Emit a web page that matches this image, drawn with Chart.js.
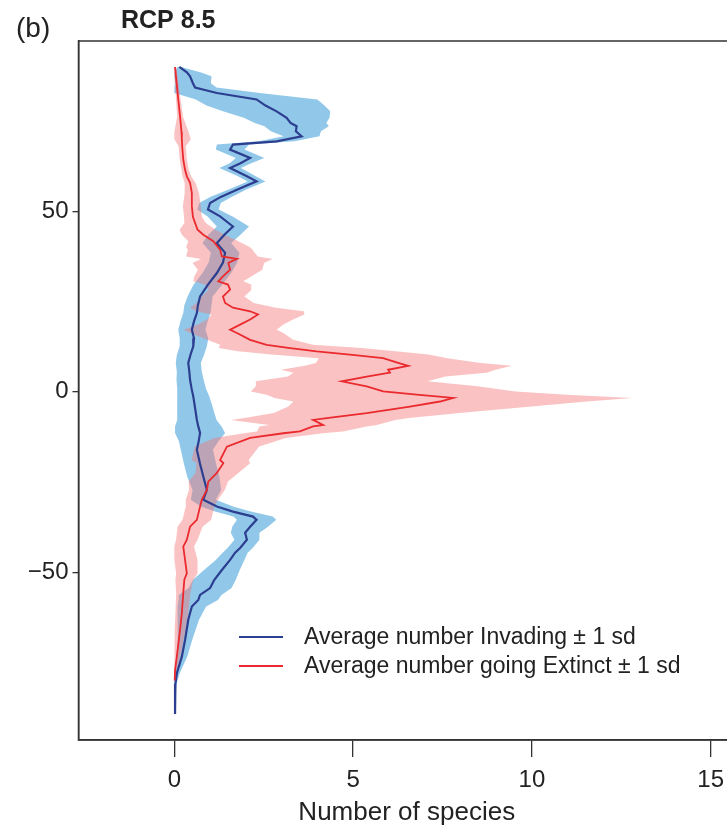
<!DOCTYPE html>
<html>
<head>
<meta charset="utf-8">
<script src="https://cdn.jsdelivr.net/npm/chart.js@4.4.1/dist/chart.umd.min.js"></script>
<style>
  html, body { margin: 0; padding: 0; background: #fff; overflow: hidden; }
  #wrap { width: 727px; height: 829px; overflow: hidden; }
</style>
</head>
<body>
<div id="wrap"><canvas id="profileChart" width="760" height="829"></canvas></div>
<script>
// latitude (deg) of each reading, mean and sd, per series
const invLat = [90.0, 88.5, 87.4, 85.5, 84.3, 82.8, 81.0, 79.3, 77.7, 75.9, 74.5, 73.6, 72.2, 70.8, 69.4, 68.5, 67.1, 64.8, 63.3, 62.0,
  59.7, 58.3, 56.0, 54.0, 52.3, 50.5, 48.6, 45.8, 43.5, 41.2, 38.5, 35.8, 32.9, 29.7, 26.4, 24.0, 21.8, 19.5, 17.2, 14.8,
  12.6, 10.2, 8.0, 5.5, 3.3, 1.0, -1.3, -4.5, -7.8, -9.6, -11.4, -13.8, -16.1, -20.0, -23.5, -27.2, -29.9, -31.8, -33.2, -34.6,
  -35.5, -37.4, -39.1, -41.0, -43.3, -44.6, -46.6, -49.4, -52.1, -54.4, -56.3, -57.7, -59.5, -63.2, -68.8, -73.4, -78.0, -81.0, -89.3];
const invMean = [0.14, 0.35, 0.44, 0.52, 0.58, 1.19, 2.30, 2.55, 2.86, 3.14, 3.25, 3.42, 3.40, 3.56, 2.86, 1.64, 1.56, 2.12, 1.85, 1.56,
  2.03, 2.30, 1.75, 1.30, 1.00, 0.94, 1.28, 1.64, 1.40, 1.19, 1.42, 1.36, 1.19, 0.94, 0.72, 0.66, 0.63, 0.55, 0.49, 0.55,
  0.53, 0.45, 0.39, 0.42, 0.44, 0.48, 0.53, 0.58, 0.63, 0.67, 0.72, 0.68, 0.63, 0.72, 0.81, 0.91, 0.81, 1.19, 1.64, 2.20,
  2.30, 2.12, 1.98, 2.03, 1.84, 1.70, 1.56, 1.33, 1.12, 1.00, 0.72, 0.67, 0.49, 0.39, 0.30, 0.21, 0.07, 0.03, 0.02];
const invSd = [0.05, 0.4, 0.6, 0.5, 0.6, 1.2, 1.7, 1.65, 1.5, 1.2, 1.0, 0.9, 0.7, 0.5, 0.5, 0.45, 0.4, 0.4, 0.3, 0.3,
  0.25, 0.25, 0.25, 0.3, 0.3, 0.3, 0.35, 0.45, 0.45, 0.4, 0.4, 0.4, 0.4, 0.4, 0.35, 0.38, 0.38, 0.38, 0.38, 0.4,
  0.38, 0.38, 0.35, 0.35, 0.38, 0.4, 0.45, 0.5, 0.55, 0.65, 0.7, 0.55, 0.45, 0.45, 0.45, 0.4, 0.35, 0.45, 0.5, 0.55,
  0.55, 0.5, 0.4, 0.35, 0.35, 0.35, 0.4, 0.5, 0.6, 0.6, 0.6, 0.55, 0.4, 0.3, 0.2, 0.15, 0.08, 0.03, 0.0];

const extLat = [90.0, 86.0, 82.0, 76.3, 72.0, 70.0, 68.0, 64.3, 61.5, 59.7, 57.9, 55.1, 51.4, 48.5, 46.8, 44.9, 43.5, 41.7, 40.0, 39.4,
  37.5, 36.8, 36.2, 35.7, 33.8, 32.0, 30.6, 29.7, 28.3, 26.4, 24.6, 23.3, 22.3, 21.4, 20.0, 18.6, 17.2, 16.3, 14.4, 13.0,
  12.1, 11.2, 10.3, 9.3, 8.0, 7.2, 6.1, 5.3, 4.2, 2.9, 1.5, 0.1, -0.8, -1.7, -2.7, -4.1, -5.9, -7.3, -7.8, -9.2,
  -9.6, -11.0, -11.5, -12.8, -15.2, -18.9, -19.8, -22.5, -24.9, -27.2, -29.9, -31.8, -35.5, -37.4, -41.0, -42.9, -46.6, -50.3, -52.1, -55.8,
  -61.4, -66.0, -73.4, -77.1, -80.0];
const extMean = [0.02, 0.06, 0.10, 0.16, 0.20, 0.21, 0.22, 0.25, 0.30, 0.35, 0.44, 0.49, 0.49, 0.52, 0.58, 0.65, 0.81, 1.09, 1.23, 1.28,
  1.33, 1.75, 1.61, 1.51, 1.56, 1.36, 1.23, 1.50, 1.56, 1.36, 1.42, 1.64, 2.12, 2.34, 2.12, 1.84, 1.56, 1.75, 2.12, 2.58,
  3.24, 3.98, 4.91, 5.84, 6.26, 6.54, 5.98, 6.03, 5.38, 4.68, 5.38, 5.84, 6.78, 7.80, 7.43, 6.59, 5.38, 4.26, 3.88, 4.16,
  3.88, 3.51, 3.05, 2.12, 1.47, 1.28, 1.37, 1.19, 0.95, 0.91, 0.77, 0.72, 0.63, 0.44, 0.35, 0.25, 0.30, 0.35, 0.28, 0.25,
  0.21, 0.16, 0.07, 0.02, 0.01];
const extSd = [0.03, 0.05, 0.06, 0.08, 0.2, 0.25, 0.1, 0.1, 0.1, 0.12, 0.15, 0.2, 0.25, 0.25, 0.3, 0.5, 0.6, 0.7, 0.9, 0.9,
  1.0, 1.0, 1.0, 1.0, 0.9, 0.8, 0.7, 0.65, 0.6, 0.6, 0.8, 1.2, 1.5, 1.3, 1.2, 1.2, 1.3, 1.3, 1.2, 1.3,
  2.0, 2.2, 2.2, 1.8, 2.3, 2.9, 3.0, 2.7, 2.2, 2.4, 3.1, 3.7, 4.2, 5.0, 4.1, 3.4, 2.6, 2.3, 2.3, 1.5,
  1.5, 1.2, 1.1, 1.0, 0.9, 0.8, 0.75, 0.6, 0.55, 0.5, 0.45, 0.4, 0.4, 0.35, 0.3, 0.3, 0.35, 0.3, 0.25, 0.2,
  0.18, 0.15, 0.1, 0.05, 0.02];

const xTickValues = [0, 5, 10, 15];
const yTickValues = [-50, 0, 50];
const legendLabels = ['Average number Invading \u00b1 1 sd', 'Average number going Extinct \u00b1 1 sd'];

const FONT = "'Liberation Sans', Arial, sans-serif";
const BLUE_LINE = '#2c3e8f';
const RED_LINE = '#ea2a2f';

function meanLine(lat, mean) {
  return lat.map((y, i) => ({ x: mean[i], y }));
}

// closed outline: lower edge going one way, upper edge coming back
function sdBand(lat, mean, sd) {
  const lower = lat.map((y, i) => ({ x: Math.max(0, mean[i] - sd[i]), y }));
  const upper = lat.map((y, i) => ({ x: mean[i] + sd[i], y })).reverse();
  return lower.concat(upper);
}

const plotFrame = {
  id: 'plotFrame',
  afterDraw(chart) {
    const { ctx, chartArea: a } = chart;
    ctx.save();
    ctx.strokeStyle = '#333';
    ctx.lineWidth = 1.5;
    ctx.strokeRect(a.left, a.top, a.right - a.left, a.bottom - a.top);
    ctx.restore();
  }
};

const panelText = {
  id: 'panelText',
  afterDraw(chart) {
    const { ctx } = chart;
    ctx.save();
    ctx.fillStyle = '#222';
    ctx.textAlign = 'left';
    ctx.textBaseline = 'alphabetic';
    ctx.font = '28px ' + FONT;
    ctx.fillText('(b)', 16, 37);
    ctx.font = 'bold 25px ' + FONT;
    ctx.fillText('RCP 8.5', 121, 28);

    // legend inside the plot
    const colors = [BLUE_LINE, RED_LINE];
    const rows = [637, 666];
    ctx.font = '23px ' + FONT;
    rows.forEach((y, i) => {
      ctx.strokeStyle = colors[i];
      ctx.lineWidth = 2;
      ctx.beginPath();
      ctx.moveTo(239, y);
      ctx.lineTo(283, y);
      ctx.stroke();
      ctx.fillStyle = '#222';
      ctx.fillText(legendLabels[i], 304, y + 7);
    });
    ctx.restore();
  }
};

const ctx = document.getElementById('profileChart').getContext('2d');

new Chart(ctx, {
  type: 'scatter',
  data: {
    datasets: [
      {
        label: legendLabels[1],
        data: meanLine(extLat, extMean),
        showLine: true,
        borderColor: RED_LINE,
        borderWidth: 1.8,
        pointRadius: 0,
        fill: false,
        order: 0,
      },
      {
        label: legendLabels[0],
        data: meanLine(invLat, invMean),
        showLine: true,
        borderColor: BLUE_LINE,
        borderWidth: 2.2,
        pointRadius: 0,
        fill: false,
        order: 1,
      },
      {
        label: 'Extinct sd',
        data: sdBand(extLat, extMean, extSd),
        showLine: true,
        borderColor: 'rgba(0,0,0,0)',
        borderWidth: 0,
        backgroundColor: 'rgba(244, 120, 120, 0.45)',
        pointRadius: 0,
        fill: 'shape',
        order: 2,
      },
      {
        label: 'Invading sd',
        data: sdBand(invLat, invMean, invSd),
        showLine: true,
        borderColor: 'rgba(0,0,0,0)',
        borderWidth: 0,
        backgroundColor: 'rgba(72, 163, 219, 0.6)',
        pointRadius: 0,
        fill: 'shape',
        order: 3,
      },
    ],
  },
  options: {
    indexAxis: 'y',
    responsive: false,
    animation: false,
    layout: { padding: { top: 41, right: 25, left: 0, bottom: 0 } },
    plugins: {
      legend: { display: false },
      tooltip: { enabled: false },
    },
    scales: {
      x: {
        type: 'linear',
        position: 'bottom',
        min: -2.68,
        max: 15.68,
        afterBuildTicks: scale => { scale.ticks = xTickValues.map(v => ({ value: v })); },
        afterFit: scale => { scale.height = 89; },
        ticks: {
          color: '#222',
          padding: 9,
          font: { size: 24, family: FONT },
        },
        grid: { drawOnChartArea: false, tickLength: 17, color: '#333', lineWidth: 1.3 },
        border: { display: true, color: '#333', width: 1.5 },
        title: {
          display: true,
          text: 'Number of species',
          color: '#222',
          font: { size: 26, family: FONT },
          padding: { top: 0, bottom: 1 },
        },
      },
      y: {
        type: 'linear',
        position: 'left',
        min: -96.5,
        max: 97.2,
        afterBuildTicks: scale => { scale.ticks = yTickValues.map(v => ({ value: v })); },
        afterFit: scale => { scale.width = 78.5; },
        ticks: {
          color: '#222',
          padding: 4,
          font: { size: 24, family: FONT },
          callback: v => (v < 0 ? '\u2212' + Math.abs(v) : String(v)),
        },
        grid: { drawOnChartArea: false, tickLength: 6, color: '#333', lineWidth: 1.3 },
        border: { display: true, color: '#333', width: 1.5 },
      },
    },
  },
  plugins: [plotFrame, panelText],
});
</script>
</body>
</html>
